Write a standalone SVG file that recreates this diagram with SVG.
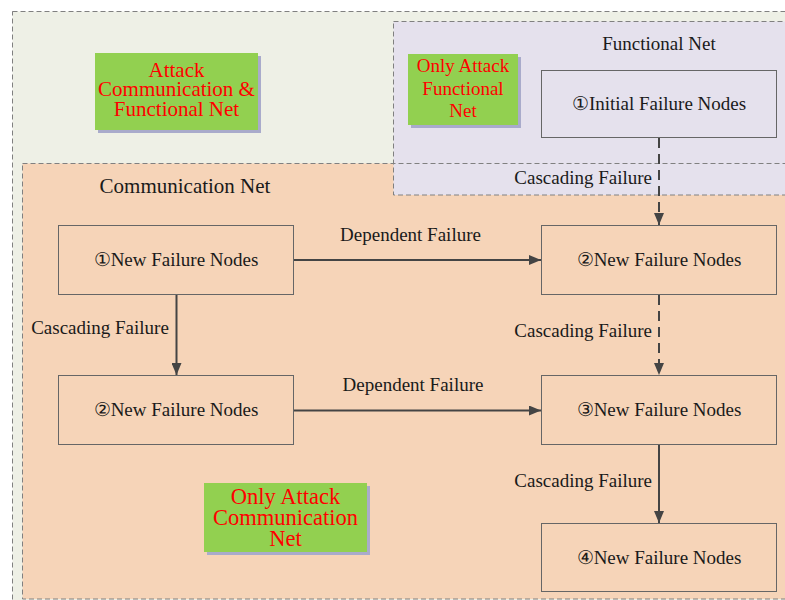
<svg xmlns="http://www.w3.org/2000/svg" width="785" height="600" viewBox="0 0 785 600">
  <style>
    .region { stroke: #808080; stroke-width: 1; stroke-dasharray: 5 3; }
    .node { fill: none; stroke: #666666; stroke-width: 1; }
    .label { font-family: "Liberation Serif", "Times New Roman", serif; font-size: 19px; fill: #1a1a1a; }
    .title { font-family: "Liberation Serif", "Times New Roman", serif; fill: #1a1a1a; text-anchor: middle; }
    .mid { text-anchor: middle; }
    .end { text-anchor: end; }
    .tag { fill: #92d050; }
    .tagshadow { fill: #a9abcb; }
    .tagtext { font-family: "Liberation Serif", "Times New Roman", serif; fill: #ff0000; text-anchor: middle; }
    .edge { stroke: #444444; stroke-width: 2; fill: none; }
    .dash { stroke-dasharray: 10 6; }
  </style>
  <defs>
    <marker id="arrow" viewBox="0 0 12 10" refX="12" refY="5" markerWidth="12" markerHeight="10" markerUnits="userSpaceOnUse" orient="auto">
      <path d="M0,0 L12,5 L0,10 Z" fill="#444444"/>
    </marker>
  </defs>

  <rect width="785" height="600" fill="#ffffff"/>

  <!-- Regions -->
  <g id="region-outer">
    <rect x="12.5" y="11.5" width="790" height="600" fill="#eef0e6" class="region"/>
  </g>
  <g id="region-communication">
    <rect x="22.5" y="163.5" width="780" height="435.5" fill="#f6d4b8"/>
  </g>
  <g id="region-functional">
    <rect x="393.5" y="21.5" width="410" height="173.5" fill="#e5e1ed"/>
  </g>
  <g id="region-outlines" fill="none">
    <rect x="22.5" y="163.5" width="780" height="435.5" class="region"/>
    <rect x="393.5" y="21.5" width="410" height="173.5" class="region"/>
  </g>

  <text class="title" font-size="19" x="659" y="50">Functional Net</text>
  <text class="title" font-size="21" x="185" y="193">Communication Net</text>

  <!-- Attack tags -->
  <g id="tag-both">
    <rect x="98" y="56" width="163" height="77" class="tagshadow"/>
    <rect x="95" y="53" width="163" height="77" class="tag"/>
    <text class="tagtext" font-size="21" x="176.5" y="76.5">Attack</text>
    <text class="tagtext" font-size="21" x="176.5" y="96">Communication &amp;</text>
    <text class="tagtext" font-size="21" x="176.5" y="115.5">Functional Net</text>
  </g>
  <g id="tag-functional">
    <rect x="411" y="57" width="110" height="71" class="tagshadow"/>
    <rect x="408" y="54" width="110" height="71" class="tag"/>
    <text class="tagtext" font-size="19" x="463" y="71.5">Only Attack</text>
    <text class="tagtext" font-size="19" x="463" y="94.5">Functional</text>
    <text class="tagtext" font-size="19" x="463" y="117">Net</text>
  </g>
  <g id="tag-communication">
    <rect x="207" y="486" width="163" height="69" class="tagshadow"/>
    <rect x="204" y="483" width="163" height="69" class="tag"/>
    <text class="tagtext" font-size="22.5" x="285.5" y="504">Only Attack</text>
    <text class="tagtext" font-size="22.5" x="285.5" y="524.5">Communication</text>
    <text class="tagtext" font-size="22.5" x="285.5" y="545.5">Net</text>
  </g>

  <!-- Nodes -->
  <g id="node-initial">
    <rect x="541.5" y="70.5" width="235" height="67" class="node"/>
    <text class="label mid" x="659" y="110">①Initial Failure Nodes</text>
  </g>
  <g id="node-c1">
    <rect x="58.5" y="225.5" width="235" height="69" class="node"/>
    <text class="label mid" x="176" y="265.5">①New Failure Nodes</text>
  </g>
  <g id="node-f2">
    <rect x="541.5" y="225.5" width="235" height="69" class="node"/>
    <text class="label mid" x="659" y="265.5">②New Failure Nodes</text>
  </g>
  <g id="node-c2">
    <rect x="58.5" y="375.5" width="235" height="69" class="node"/>
    <text class="label mid" x="176" y="416">②New Failure Nodes</text>
  </g>
  <g id="node-f3">
    <rect x="541.5" y="375.5" width="235" height="69" class="node"/>
    <text class="label mid" x="659" y="416">③New Failure Nodes</text>
  </g>
  <g id="node-f4">
    <rect x="541.5" y="523.5" width="235" height="68" class="node"/>
    <text class="label mid" x="659" y="563.5">④New Failure Nodes</text>
  </g>

  <!-- Connectors -->
  <g id="connectors">
    <path d="M659,138 V225" class="edge dash" marker-end="url(#arrow)"/>
    <path d="M294,260 H541" class="edge" marker-end="url(#arrow)"/>
    <path d="M176.5,295 V375" class="edge" marker-end="url(#arrow)"/>
    <path d="M659,295 V375" class="edge dash" marker-end="url(#arrow)"/>
    <path d="M294,410.5 H541" class="edge" marker-end="url(#arrow)"/>
    <path d="M659,445 V523" class="edge" marker-end="url(#arrow)"/>

    <text class="label end" x="652" y="184">Cascading Failure</text>
    <text class="label mid" x="410.5" y="241">Dependent Failure</text>
    <text class="label mid" x="100" y="333.5">Cascading Failure</text>
    <text class="label end" x="652" y="336.5">Cascading Failure</text>
    <text class="label mid" x="413" y="391">Dependent Failure</text>
    <text class="label end" x="652" y="487">Cascading Failure</text>
  </g>
</svg>
